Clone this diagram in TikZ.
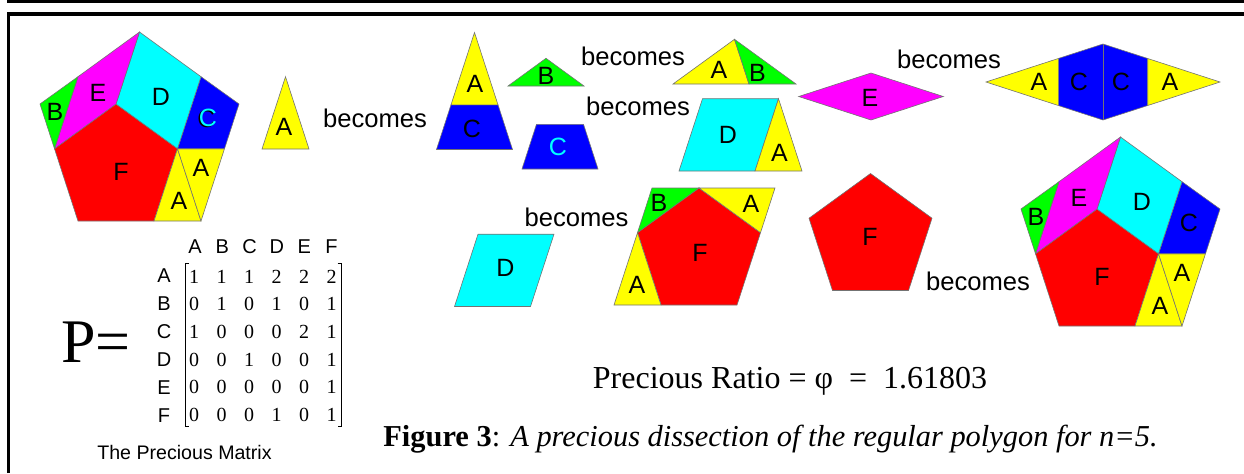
\documentclass[tikz,border=0pt]{standalone}
\usepackage{fontspec}
\setmainfont{Liberation Serif}
\setsansfont{Liberation Sans}
\usepackage{tikz}
\usetikzlibrary{positioning}
\definecolor{colA}{rgb}{1, 1, 0}
\definecolor{colB}{rgb}{0, 1, 0}
\definecolor{colC}{rgb}{0, 0, 1}
\definecolor{colD}{rgb}{0, 1, 1}
\definecolor{colE}{rgb}{1, 0, 1}
\definecolor{colF}{rgb}{1, 0, 0}

\tikzset{
    piece/.style={draw=black!55, line width=0.3pt},
    lbl/.style={font=\sffamily\fontsize{12.5}{12.5}\selectfont, inner sep=0pt},
    word/.style={font=\sffamily\fontsize{12.8}{12.8}\selectfont, inner sep=0pt},
    hdr/.style={font=\sffamily\fontsize{10}{10}\selectfont, inner sep=0pt},
    entry/.style={font=\fontsize{10}{10}\selectfont, inner sep=0pt},
}

% dissected pentagon: bottom left corner, colour of its C, its shadow, name prefix
\newcommand{\preciouspent}[4]{%
  \begin{scope}[shift={#1}]
    \filldraw[piece,fill=colF] (0,0) -- (76,0) -- (99.5,-72.3) -- (38,-117) -- (-23.5,-72.3) -- cycle;
    \filldraw[piece,fill=colA] (76,0) -- (123,0) -- (99.5,-72.3) -- cycle;
    \filldraw[piece,fill=colA] (99.5,-72.3) -- (146.5,-72.3) -- (123,0) -- cycle;
    \filldraw[piece,fill=colC] (99.5,-72.3) -- (146.5,-72.3) -- (161,-117) -- (123,-144.3) -- cycle;
    \filldraw[piece,fill=colD] (38,-117) -- (99.5,-72.3) -- (123,-144.3) -- (61.5,-189) -- cycle;
    \filldraw[piece,fill=colE] (-23.5,-72.3) -- (38,-117) -- (61.5,-189) -- (0,-144.3) -- cycle;
    \filldraw[piece,fill=colB] (-38,-117) -- (0,-144.3) -- (-23.5,-72.3) -- cycle;
    \node[lbl] (#4F) at (43,-49) {F};
    \node[lbl] (#4A1) at (101,-20) {A};
    \node[lbl] (#4A2) at (123,-53) {A};
    \node[lbl,text=#3] (#4Cs) at (128.4,-102.3) {C};
    \node[lbl,text=#2] (#4C) at (130,-103) {C};
    \node[lbl] (#4D) at (83,-124) {D};
    \node[lbl] (#4E) at (20,-128) {E};
    \node[lbl] (#4B) at (-23,-109) {B};
  \end{scope}}

\begin{document}
\begin{tikzpicture}[x=0.5pt, y=-0.5pt]
    \useasboundingbox (0,0) rectangle (1244,473);
    \draw[line width=1.5pt] (7,1.5) -- (1244,1.5);
    \draw[line width=1.6pt] (8.5,473) -- (8.5,14) -- (1244,14);

    \preciouspent{(78,221)}{colD}{black}{lp}
    \preciouspent{(1059,326)}{black}{colC}{rp}

    % A becomes A + C
    \filldraw[piece,fill=colA] (262,149) -- (309,149) -- (285.5,76.7) -- cycle;
    \node[lbl] (a1) at (284,127) {A};
    \node[word] (w1) at (375,118) {becomes};
    \filldraw[piece,fill=colC] (436.5,149.5) -- (512.5,149.5) -- (498,104.8) -- (451,104.8) -- cycle;
    \filldraw[piece,fill=colA] (451,104.8) -- (498,104.8) -- (474.5,32.5) -- cycle;
    \node[lbl] (a2) at (475,84) {A};
    \node[lbl] (c2) at (472,129) {C};

    % B becomes A + B
    \filldraw[piece,fill=colB] (508,86) -- (584,86) -- (546,58.3) -- cycle;
    \node[lbl] (b1) at (546,76) {B};
    \node[word] (w2) at (633,56) {becomes};
    \filldraw[piece,fill=colA] (673,84) -- (749,84) -- (734.5,39.3) -- cycle;
    \filldraw[piece,fill=colB] (749,84) -- (796,84) -- (734.5,39.3) -- cycle;
    \node[lbl] (a3) at (719,70) {A};
    \node[lbl] (b2) at (757.5,72.5) {B};

    % C becomes D + A
    \filldraw[piece,fill=colC] (522,169) -- (598,169) -- (583.5,124.3) -- (536.5,124.3) -- cycle;
    \node[lbl,text=colD] (c1) at (558,147) {C};
    \node[word] (w3) at (638,106) {becomes};
    \filldraw[piece,fill=colD] (679,171) -- (755,171) -- (778.5,98.7) -- (702.5,98.7) -- cycle;
    \filldraw[piece,fill=colA] (755,171) -- (802,171) -- (778.5,98.7) -- cycle;
    \node[lbl] (d2) at (728,135) {D};
    \node[lbl] (a4) at (779.5,153) {A};

    % E becomes A C C A
    \filldraw[piece,fill=colE] (798.7,96.5) -- (871,73) -- (943.3,96.5) -- (871,120) -- cycle;
    \node[lbl] (e1) at (870,97.5) {E};
    \node[word] (w4) at (949,59) {becomes};
    \filldraw[piece,fill=colC] (1058.3,58.5) -- (1103,44) -- (1147.7,58.5) -- (1147.7,105.5) -- (1103,120) -- (1058.3,105.5) -- cycle;
    \draw[piece] (1103,44) -- (1103,120);
    \filldraw[piece,fill=colA] (986,82) -- (1058.3,58.5) -- (1058.3,105.5) -- cycle;
    \filldraw[piece,fill=colA] (1220,82) -- (1147.7,58.5) -- (1147.7,105.5) -- cycle;
    \node[lbl] (a5) at (1039,82) {A};
    \node[lbl] (c3) at (1079,82) {C};
    \node[lbl] (c4) at (1121,82) {C};
    \node[lbl] (a6) at (1170,82) {A};

    % D becomes B A F A
    \filldraw[piece,fill=colD] (454.5,306.5) -- (530.5,306.5) -- (554,234.2) -- (478,234.2) -- cycle;
    \node[lbl] (d1) at (505.5,268) {D};
    \node[word] (w5) at (576.5,217) {becomes};
    \filldraw[piece,fill=colF] (661,305) -- (737,305) -- (760.5,232.7) -- (699,188) -- (637.5,232.7) -- cycle;
    \filldraw[piece,fill=colB] (652,188) -- (699,188) -- (637.5,232.7) -- cycle;
    \filldraw[piece,fill=colA] (699,188) -- (775,188) -- (760.5,232.7) -- cycle;
    \filldraw[piece,fill=colA] (614,305) -- (661,305) -- (637.5,232.7) -- cycle;
    \node[lbl] (b3) at (659,203) {B};
    \node[lbl] (a7) at (751,204) {A};
    \node[lbl] (f2) at (700,253) {F};
    \node[lbl] (a8) at (637,285) {A};

    % F becomes the whole pentagon
    \filldraw[piece,fill=colF] (832.5,290.5) -- (908.5,290.5) -- (932,218.2) -- (870.5,173.5) -- (809,218.2) -- cycle;
    \node[lbl] (f1) at (870,236.5) {F};
    \node[word] (w6) at (978,281) {becomes};

    % the matrix
    \node[font=\fontsize{31}{31}\selectfont, inner sep=0pt, anchor=base west] (peq) at (61,362) {P=};
    \foreach \h [count=\c] in {A,B,C,D,E,F} {
        \node[hdr] (col\h) at ({195+27.3*(\c-1)}, 246.7) {\h};
        \node[hdr] (row\h) at (164, {276+28*(\c-1)}) {\h};
    }
    \foreach \row [count=\r] in {{1,1,1,2,2,2},{0,1,0,1,0,1},{1,0,0,0,2,1},{0,0,1,0,0,1},{0,0,0,0,0,1},{0,0,0,1,0,1}} {
        \foreach \v [count=\c] in \row {
            \node[entry] (m\r\c) at ({194+27.5*(\c-1)}, {276.5+27.7*(\r-1)}) {\v};
        }
    }
    \draw[line width=0.5pt] (189,263.3) -- (185,263.3) -- (185,426.7) -- (189,426.7);
    \draw[line width=0.5pt] (337.5,263.3) -- (341.7,263.3) -- (341.7,426.7) -- (337.5,426.7);
    \node[font=\sffamily\fontsize{9.8}{9.8}\selectfont, inner sep=0pt] (pmcap) at (184.5,452) {The Precious Matrix};

    \node[font=\fontsize{16}{16}\selectfont, inner sep=0pt, anchor=base] (ratio) at (790,388.3) {Precious Ratio = φ\ \ =\ \ 1.61803};
    \node[font=\fontsize{15.2}{15.2}\selectfont, inner sep=0pt, anchor=base west] (figcap) at (383,446) {\textbf{Figure 3}: \textit{A precious dissection of the regular polygon for n=5.}};
\end{tikzpicture}
\end{document}
